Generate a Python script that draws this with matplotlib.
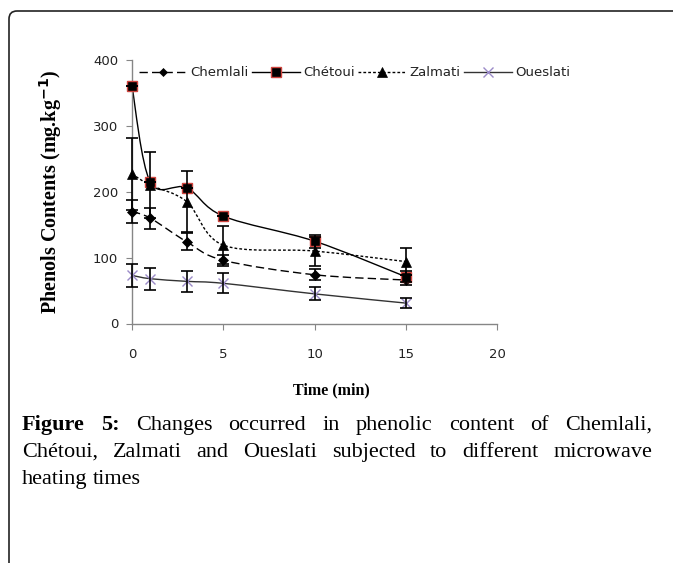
import matplotlib
matplotlib.use("Agg")
import matplotlib.pyplot as plt
import numpy as np
from matplotlib.path import Path
from matplotlib.patches import PathPatch, FancyBboxPatch
from matplotlib.lines import Line2D

# heating time (min)
time = [0, 1, 3, 5, 10, 15]

chemlali = [170, 160, 124, 96, 74, 66]
chemlali_err = [17, 16, 13, 8, 8, 8]
chetoui = [360, 215, 206, 163, 125, 71]
chetoui_err = [0, 0, 0, 0, 10, 8]
zalmati = [227, 210, 185, 119, 110, 94]
zalmati_err = [55, 50, 46, 29, 22, 21]
oueslati = [73, 68, 64, 61, 45, 31]
oueslati_err = [18, 17, 16, 15, 10, 7]

names = ["Chemlali", "Chétoui", "Zalmati", "Oueslati"]
caption1 = "Changes occurred in phenolic content of Chemlali,"
caption2 = "Chétoui, Zalmati and Oueslati subjected to different microwave"
caption3 = "heating times"


def smooth_path(x, y):
    # excel-like smoothed line (bezier through the data points)
    pts = np.column_stack([x, y]).astype(float)
    n = len(pts)
    verts = [pts[0]]
    codes = [Path.MOVETO]
    for i in range(n - 1):
        p0 = pts[i - 1] if i > 0 else pts[i]
        p1, p2 = pts[i], pts[i + 1]
        p3 = pts[i + 2] if i + 2 < n else pts[i + 1]
        verts += [p1 + (p2 - p0) / 6, p2 - (p3 - p1) / 6, p2]
        codes += [Path.CURVE4] * 3
    return Path(verts, codes)


fig = plt.figure(figsize=(6.73, 5.63), dpi=100)
W, H = 673, 563
ax = fig.add_axes([132 / W, 1 - 323.5 / H, 365 / W, 263.5 / H])

styles = [
    dict(data=chemlali, err=chemlali_err, ls=(0, (6, 3)), lc="black",
         marker="D", ms=5, mfc="black", mec="black", mew=0.5),
    dict(data=chetoui, err=chetoui_err, ls="-", lc="black",
         marker="s", ms=7.5, mfc="black", mec="#D0443E", mew=1.0),
    dict(data=zalmati, err=zalmati_err, ls=(0, (2, 1.5)), lc="black",
         marker="^", ms=7, mfc="black", mec="black", mew=0.5),
    dict(data=oueslati, err=oueslati_err, ls="-", lc="#333333",
         marker="x", ms=7, mfc="#9B8BC8", mec="#9B8BC8", mew=1.0),
]

handles = []
for name, s in zip(names, styles):
    ax.add_patch(PathPatch(smooth_path(time, s["data"]), fill=False,
                           ec=s["lc"], lw=1.0, ls=s["ls"], zorder=2,
                           clip_on=False))
    ax.plot(time, s["data"], ls="none", marker=s["marker"], ms=s["ms"],
            mfc=s["mfc"], mec=s["mec"], mew=s["mew"], zorder=3,
            clip_on=False)
    eb = ax.errorbar(time, s["data"], yerr=s["err"], fmt="none",
                     ecolor="black", elinewidth=1.2, capsize=4.5,
                     capthick=1.2, zorder=4)
    for art in eb.get_children():
        art.set_clip_on(False)
    handles.append(Line2D([], [], color=s["lc"], ls=s["ls"], lw=1.0,
                          marker=s["marker"], ms=s["ms"] - 0.5, mfc=s["mfc"],
                          mec=s["mec"], mew=s["mew"], label=name))

ax.set_xlim(0, 20)
ax.set_ylim(0, 400)
ax.set_xticks([0, 5, 10, 15, 20])
ax.set_yticks([0, 100, 200, 300, 400])
for side in ["top", "right"]:
    ax.spines[side].set_visible(False)
for side in ["left", "bottom"]:
    ax.spines[side].set_color("#868686")
    ax.spines[side].set_linewidth(1.0)
ax.tick_params(axis="y", direction="out", length=4, color="#868686",
               labelsize=9.5, labelcolor="#222222", pad=6)
ax.tick_params(axis="x", direction="out", length=4, color="#868686",
               labelsize=9.5, labelcolor="#222222", pad=14)

ax.set_ylabel("Phenols Contents (mg.kg$^{\\mathbf{-1}}$)", family="Liberation Serif",
              fontweight="bold", fontsize=14.5)
ax.yaxis.set_label_coords(-0.185, 0.5)
ax.set_xlabel("Time (min)", family="Liberation Serif", fontweight="bold",
              fontsize=11.5)
ax.xaxis.set_label_coords(0.545, -0.225)

fig.legend(handles=handles, loc="center left",
           bbox_to_anchor=(139 / W, 1 - 73 / H), ncol=4, frameon=False,
           fontsize=9.5, handlelength=3.6, handletextpad=0.25,
           columnspacing=0.3, borderpad=0, borderaxespad=0,
           labelcolor="#222222")

# page frame (rounded top-left corner)
frame = FancyBboxPatch((0.09, -0.6), 7.0, 5.63 - 0.11 + 0.6,
                       boxstyle="round,pad=0,rounding_size=0.08",
                       transform=fig.dpi_scale_trans, fill=False,
                       ec="#222222", lw=1.2)
fig.patches.append(frame)

# justified caption
fig.canvas.draw()
renderer = fig.canvas.get_renderer()
cap_font = dict(family="Liberation Serif", fontsize=16, color="black")
left_px, right_px = 22, 652


def put_line(words, y_px, justify=True):
    texts = []
    for w, bold in words:
        t = fig.text(0, 1 - y_px / H, w, va="baseline", ha="left",
                     fontweight="bold" if bold else "normal", **cap_font)
        texts.append(t)
    widths = [t.get_window_extent(renderer).width for t in texts]
    if justify and len(texts) > 1:
        gap = (right_px - left_px - sum(widths)) / (len(texts) - 1)
    else:
        gap = fig.text(0, 0, "a a", **cap_font).get_window_extent(renderer).width - \
            fig.text(0, 0, "aa", **cap_font).get_window_extent(renderer).width
        for t in fig.texts[-2:]:
            t.remove()
    x = left_px
    for t, w in zip(texts, widths):
        t.set_x(x / W)
        x += w + gap


line1 = [("Figure", True), ("5:", True)] + [(w, False) for w in caption1.split()]
put_line(line1, 430)
put_line([(w, False) for w in caption2.split()], 457)
put_line([(w, False) for w in caption3.split()], 484, justify=False)

fig.savefig("out.png", dpi=100)
